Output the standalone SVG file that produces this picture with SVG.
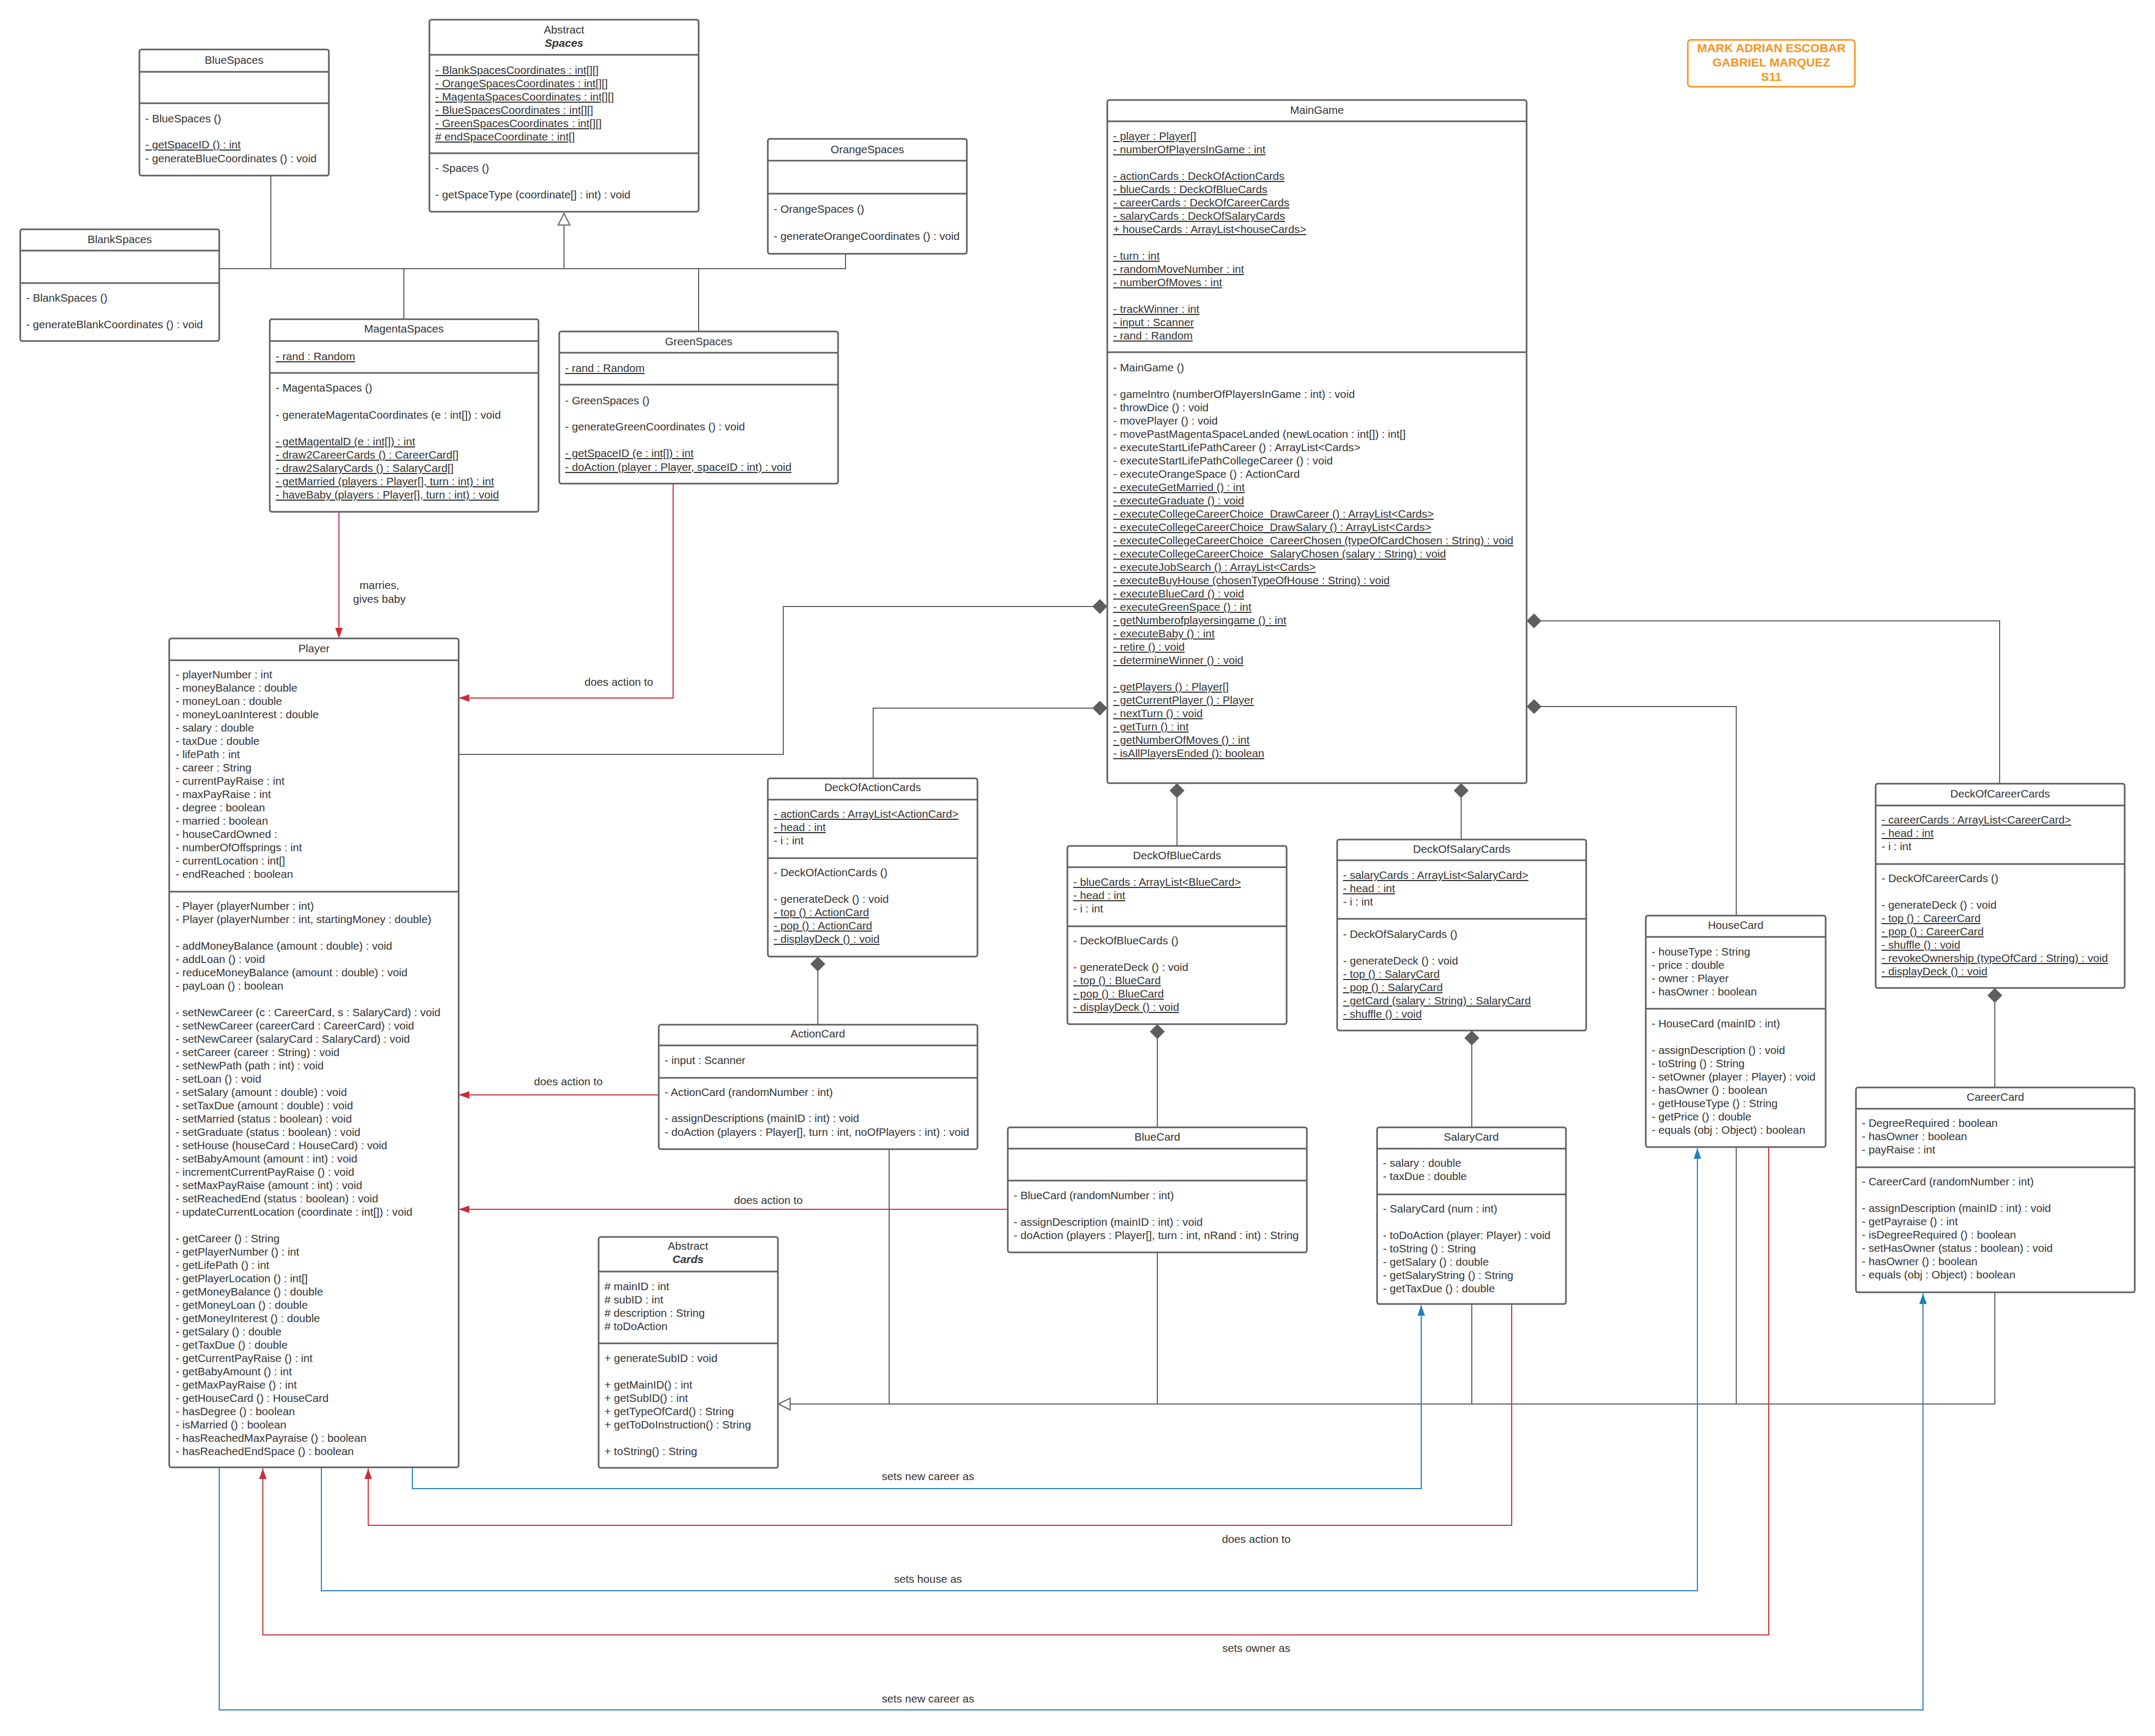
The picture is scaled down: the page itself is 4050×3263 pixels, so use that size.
<svg xmlns="http://www.w3.org/2000/svg" width="4050" height="3263" viewBox="0 0 4050 3263">
<style>
.bg{fill:#fff}
.box{fill:#fff;stroke:#5e5e5e;stroke-width:3}
.dv{stroke:#5e5e5e;stroke-width:3}
text{font-family:"Liberation Sans",Arial,sans-serif;font-size:20.7px;fill:#333}
.c{text-anchor:middle}
.u{text-decoration:underline}
.bi{font-weight:bold;font-style:italic}
.ln{fill:none;stroke:#5e5e5e;stroke-width:2}
.rd{fill:none;stroke:#c92d39;stroke-width:2}
.bl{fill:none;stroke:#1f7fc0;stroke-width:2}
.nm{font-weight:bold;fill:#f7941d;font-size:22.5px}
</style>
<defs>
<marker id="arrR" markerUnits="userSpaceOnUse" markerWidth="24" markerHeight="18" refX="20" refY="7" orient="auto"><path d="M0,0 L20,7 L0,14 z" fill="#c92d39"/></marker>
<marker id="arrB" markerUnits="userSpaceOnUse" markerWidth="24" markerHeight="18" refX="20" refY="7" orient="auto"><path d="M0,0 L20,7 L0,14 z" fill="#1f7fc0"/></marker>
<marker id="dia" markerUnits="userSpaceOnUse" markerWidth="32" markerHeight="32" refX="1" refY="15" orient="auto"><path d="M1,15 L15,1 L29,15 L15,29 z" fill="#5e5e5e"/></marker>
<marker id="tri" markerUnits="userSpaceOnUse" markerWidth="28" markerHeight="28" refX="24" refY="13" orient="auto"><path d="M2,2 L24,13 L2,24 z" fill="#fff" stroke="#5e5e5e" stroke-width="2"/></marker>
</defs>
<rect class="bg" x="0" y="0" width="4050" height="3263"/>

<g id="connectors">
<path class="ln" d="M412,505 H1060 V401" marker-end="url(#tri)"/>
<path class="ln" d="M509,330 V505"/>
<path class="ln" d="M759,600 V505"/>
<path class="ln" d="M1589,477 V505 H1060"/>
<path class="ln" d="M1313,623 V505"/>
<path class="rd" d="M637,962 V1200" marker-end="url(#arrR)"/>
<text class="c" x="713" y="1107">marries,</text>
<text class="c" x="713" y="1133">gives baby</text>
<path class="rd" d="M1265,909 V1312 H862" marker-end="url(#arrR)"/>
<text class="c" x="1163" y="1289">does action to</text>
<path class="ln" d="M2081,1140 H1472 V1418 H862" marker-start="url(#dia)"/>
<path class="ln" d="M2081,1331 H1641 V1463" marker-start="url(#dia)"/>
<path class="ln" d="M2212,1472 V1590" marker-start="url(#dia)"/>
<path class="ln" d="M2746,1472 V1578" marker-start="url(#dia)"/>
<path class="ln" d="M2869,1167 H3758 V1473" marker-start="url(#dia)"/>
<path class="ln" d="M2869,1328 H3263 V1721" marker-start="url(#dia)"/>
<path class="ln" d="M1537,1798 V1926" marker-start="url(#dia)"/>
<path class="ln" d="M2175,1925 V2119" marker-start="url(#dia)"/>
<path class="ln" d="M2766,1937 V2119" marker-start="url(#dia)"/>
<path class="ln" d="M3749,1857 V2044" marker-start="url(#dia)"/>
<path class="rd" d="M1238,2058 H862" marker-end="url(#arrR)"/>
<text class="c" x="1068" y="2040">does action to</text>
<path class="rd" d="M1894,2273 H862" marker-end="url(#arrR)"/>
<text class="c" x="1444" y="2263">does action to</text>
<path class="ln" d="M3749,2429 V2639 H1463" marker-end="url(#tri)"/>
<path class="ln" d="M1671,2160 V2639"/>
<path class="ln" d="M2175,2354 V2639"/>
<path class="ln" d="M2766,2451 V2639"/>
<path class="ln" d="M3263,2156 V2639"/>
<path class="bl" d="M775,2758 V2798 H2671 V2453" marker-end="url(#arrB)"/>
<text class="c" x="1744" y="2782">sets new career as</text>
<path class="rd" d="M2841,2451 V2867 H692 V2760" marker-end="url(#arrR)"/>
<text class="c" x="2361" y="2900">does action to</text>
<path class="bl" d="M604,2758 V2990 H3190 V2158" marker-end="url(#arrB)"/>
<text class="c" x="1744" y="2975">sets house as</text>
<path class="rd" d="M3324,2156 V3073 H494 V2760" marker-end="url(#arrR)"/>
<text class="c" x="2361" y="3105">sets owner as</text>
<path class="bl" d="M412,2758 V3214 H3614 V2431" marker-end="url(#arrB)"/>
<text class="c" x="1744" y="3200">sets new career as</text>
</g>

<g id="names">
<rect x="3172" y="75" width="314" height="88" rx="6" fill="#fff" stroke="#f7941d" stroke-width="3"/>
<text class="c nm" x="3329" y="98">MARK ADRIAN ESCOBAR</text>
<text class="c nm" x="3329" y="125">GABRIEL MARQUEZ</text>
<text class="c nm" x="3329" y="152">S11</text>
</g>

<g id="BlueSpaces">
<rect class="box" x="262" y="93" width="356" height="237" rx="4"/>
<path class="dv" d="M262,135 H618 M262,194 H618"/>
<text class="c" x="440" y="120">BlueSpaces</text>
<text x="273" y="230">- BlueSpaces ()</text>
<text class="u" x="273" y="279">- getSpaceID () : int</text>
<text x="273" y="305">- generateBlueCoordinates () : void</text>
</g>

<g id="Spaces">
<rect class="box" x="807" y="37" width="506" height="361" rx="4"/>
<path class="dv" d="M807,103 H1313 M807,288 H1313"/>
<text class="c" x="1060" y="63">Abstract</text>
<text class="c bi" x="1060" y="88">Spaces</text>
<text class="u" x="818" y="139">- BlankSpacesCoordinates : int[][]</text>
<text class="u" x="818" y="164">- OrangeSpacesCoordinates : int[][]</text>
<text class="u" x="818" y="189">- MagentaSpacesCoordinates : int[][]</text>
<text class="u" x="818" y="214">- BlueSpacesCoordinates : int[][]</text>
<text class="u" x="818" y="239">- GreenSpacesCoordinates : int[][]</text>
<text class="u" x="818" y="264"># endSpaceCoordinate : int[]</text>
<text x="818" y="323">- Spaces ()</text>
<text x="818" y="373">- getSpaceType (coordinate[] : int) : void</text>
</g>

<g id="BlankSpaces">
<rect class="box" x="38" y="431" width="374" height="210" rx="4"/>
<path class="dv" d="M38,471 H412 M38,532 H412"/>
<text class="c" x="225" y="457">BlankSpaces</text>
<text x="49" y="567">- BlankSpaces ()</text>
<text x="49" y="617">- generateBlankCoordinates () : void</text>
</g>

<g id="OrangeSpaces">
<rect class="box" x="1443" y="261" width="374" height="216" rx="4"/>
<path class="dv" d="M1443,302 H1817 M1443,364 H1817"/>
<text class="c" x="1630" y="288">OrangeSpaces</text>
<text x="1454" y="400">- OrangeSpaces ()</text>
<text x="1454" y="451">- generateOrangeCoordinates () : void</text>
</g>

<g id="MagentaSpaces">
<rect class="box" x="507" y="600" width="505" height="362" rx="4"/>
<path class="dv" d="M507,641 H1012 M507,701 H1012"/>
<text class="c" x="759" y="625">MagentaSpaces</text>
<text class="u" x="518" y="677">- rand : Random</text>
<text x="518" y="736">- MagentaSpaces ()</text>
<text x="518" y="787">- generateMagentaCoordinates (e : int[]) : void</text>
<text class="u" x="518" y="837">- getMagentalD (e : int[]) : int</text>
<text class="u" x="518" y="862">- draw2CareerCards () : CareerCard[]</text>
<text class="u" x="518" y="887">- draw2SalaryCards () : SalaryCard[]</text>
<text class="u" x="518" y="912">- getMarried (players : Player[], turn : int) : int</text>
<text class="u" x="518" y="937">- haveBaby (players : Player[], turn : int) : void</text>
</g>

<g id="GreenSpaces">
<rect class="box" x="1051" y="623" width="524" height="286" rx="4"/>
<path class="dv" d="M1051,663 H1575 M1051,723 H1575"/>
<text class="c" x="1313" y="649">GreenSpaces</text>
<text class="u" x="1062" y="699">- rand : Random</text>
<text x="1062" y="760">- GreenSpaces ()</text>
<text x="1062" y="809">- generateGreenCoordinates () : void</text>
<text class="u" x="1062" y="859">- getSpaceID (e : int[]) : int</text>
<text class="u" x="1062" y="885">- doAction (player : Player, spaceID : int) : void</text>
</g>

<g id="MainGame">
<rect class="box" x="2081" y="188" width="788" height="1284" rx="4"/>
<path class="dv" d="M2081,228 H2869 M2081,662 H2869"/>
<text class="c" x="2475" y="214">MainGame</text>
<text class="u" x="2092" y="263">- player : Player[]</text>
<text class="u" x="2092" y="288">- numberOfPlayersInGame : int</text>
<text class="u" x="2092" y="338">- actionCards : DeckOfActionCards</text>
<text class="u" x="2092" y="363">- blueCards : DeckOfBlueCards</text>
<text class="u" x="2092" y="388">- careerCards : DeckOfCareerCards</text>
<text class="u" x="2092" y="413">- salaryCards : DeckOfSalaryCards</text>
<text class="u" x="2092" y="438">+ houseCards : ArrayList&lt;houseCards&gt;</text>
<text class="u" x="2092" y="488">- turn : int</text>
<text class="u" x="2092" y="513">- randomMoveNumber : int</text>
<text class="u" x="2092" y="538">- numberOfMoves : int</text>
<text class="u" x="2092" y="588">- trackWinner : int</text>
<text class="u" x="2092" y="613">- input : Scanner</text>
<text class="u" x="2092" y="638">- rand : Random</text>
<text x="2092" y="698">- MainGame ()</text>
<text x="2092" y="748">- gameIntro (numberOfPlayersInGame : int) : void</text>
<text x="2092" y="773">- throwDice () : void</text>
<text x="2092" y="798">- movePlayer () : void</text>
<text x="2092" y="823">- movePastMagentaSpaceLanded (newLocation : int[]) : int[]</text>
<text x="2092" y="848">- executeStartLifePathCareer () : ArrayList&lt;Cards&gt;</text>
<text x="2092" y="873">- executeStartLifePathCollegeCareer () : void</text>
<text x="2092" y="898">- executeOrangeSpace () : ActionCard</text>
<text class="u" x="2092" y="923">- executeGetMarried () : int</text>
<text class="u" x="2092" y="948">- executeGraduate () : void</text>
<text class="u" x="2092" y="973">- executeCollegeCareerChoice_DrawCareer () : ArrayList&lt;Cards&gt;</text>
<text class="u" x="2092" y="998">- executeCollegeCareerChoice_DrawSalary () : ArrayList&lt;Cards&gt;</text>
<text class="u" x="2092" y="1023">- executeCollegeCareerChoice_CareerChosen (typeOfCardChosen : String) : void</text>
<text class="u" x="2092" y="1048">- executeCollegeCareerChoice_SalaryChosen (salary : String) : void</text>
<text class="u" x="2092" y="1073">- executeJobSearch () : ArrayList&lt;Cards&gt;</text>
<text class="u" x="2092" y="1098">- executeBuyHouse (chosenTypeOfHouse : String) : void</text>
<text class="u" x="2092" y="1123">- executeBlueCard () : void</text>
<text class="u" x="2092" y="1148">- executeGreenSpace () : int</text>
<text class="u" x="2092" y="1173">- getNumberofplayersingame () : int</text>
<text class="u" x="2092" y="1198">- executeBaby () : int</text>
<text class="u" x="2092" y="1223">- retire () : void</text>
<text class="u" x="2092" y="1248">- determineWinner () : void</text>
<text class="u" x="2092" y="1298">- getPlayers () : Player[]</text>
<text class="u" x="2092" y="1323">- getCurrentPlayer () : Player</text>
<text class="u" x="2092" y="1348">- nextTurn () : void</text>
<text class="u" x="2092" y="1373">- getTurn () : int</text>
<text class="u" x="2092" y="1398">- getNumberOfMoves () : int</text>
<text class="u" x="2092" y="1423">- isAllPlayersEnded (): boolean</text>
</g>

<g id="Player">
<rect class="box" x="318" y="1200" width="544" height="1558" rx="4"/>
<path class="dv" d="M318,1241 H862 M318,1676 H862"/>
<text class="c" x="590" y="1226">Player</text>
<text x="330" y="1275">- playerNumber : int</text>
<text x="330" y="1300">- moneyBalance : double</text>
<text x="330" y="1325">- moneyLoan : double</text>
<text x="330" y="1350">- moneyLoanInterest : double</text>
<text x="330" y="1375">- salary : double</text>
<text x="330" y="1400">- taxDue : double</text>
<text x="330" y="1425">- lifePath : int</text>
<text x="330" y="1450">- career : String</text>
<text x="330" y="1475">- currentPayRaise : int</text>
<text x="330" y="1500">- maxPayRaise : int</text>
<text x="330" y="1525">- degree : boolean</text>
<text x="330" y="1550">- married : boolean</text>
<text x="330" y="1575">- houseCardOwned :</text>
<text x="330" y="1600">- numberOfOffsprings : int</text>
<text x="330" y="1625">- currentLocation : int[]</text>
<text x="330" y="1650">- endReached : boolean</text>
<text x="330" y="1710">- Player (playerNumber : int)</text>
<text x="330" y="1735">- Player (playerNumber : int, startingMoney : double)</text>
<text x="330" y="1785">- addMoneyBalance (amount : double) : void</text>
<text x="330" y="1810">- addLoan () : void</text>
<text x="330" y="1835">- reduceMoneyBalance (amount : double) : void</text>
<text x="330" y="1860">- payLoan () : boolean</text>
<text x="330" y="1910">- setNewCareer (c : CareerCard, s : SalaryCard) : void</text>
<text x="330" y="1935">- setNewCareer (careerCard : CareerCard) : void</text>
<text x="330" y="1960">- setNewCareer (salaryCard : SalaryCard) : void</text>
<text x="330" y="1985">- setCareer (career : String) : void</text>
<text x="330" y="2010">- setNewPath (path : int) : void</text>
<text x="330" y="2035">- setLoan () : void</text>
<text x="330" y="2060">- setSalary (amount : double) : void</text>
<text x="330" y="2085">- setTaxDue (amount : double) : void</text>
<text x="330" y="2110">- setMarried (status : boolean) : void</text>
<text x="330" y="2135">- setGraduate (status : boolean) : void</text>
<text x="330" y="2160">- setHouse (houseCard : HouseCard) : void</text>
<text x="330" y="2185">- setBabyAmount (amount : int) : void</text>
<text x="330" y="2210">- incrementCurrentPayRaise () : void</text>
<text x="330" y="2235">- setMaxPayRaise (amount : int) : void</text>
<text x="330" y="2260">- setReachedEnd (status : boolean) : void</text>
<text x="330" y="2285">- updateCurrentLocation (coordinate : int[]) : void</text>
<text x="330" y="2335">- getCareer () : String</text>
<text x="330" y="2360">- getPlayerNumber () : int</text>
<text x="330" y="2385">- getLifePath () : int</text>
<text x="330" y="2410">- getPlayerLocation () : int[]</text>
<text x="330" y="2435">- getMoneyBalance () : double</text>
<text x="330" y="2460">- getMoneyLoan () : double</text>
<text x="330" y="2485">- getMoneyInterest () : double</text>
<text x="330" y="2510">- getSalary () : double</text>
<text x="330" y="2535">- getTaxDue () : double</text>
<text x="330" y="2560">- getCurrentPayRaise () : int</text>
<text x="330" y="2585">- getBabyAmount () : int</text>
<text x="330" y="2610">- getMaxPayRaise () : int</text>
<text x="330" y="2635">- getHouseCard () : HouseCard</text>
<text x="330" y="2660">- hasDegree () : boolean</text>
<text x="330" y="2685">- isMarried () : boolean</text>
<text x="330" y="2710">- hasReachedMaxPayraise () : boolean</text>
<text x="330" y="2735">- hasReachedEndSpace () : boolean</text>
</g>

<g id="DeckOfActionCards">
<rect class="box" x="1443" y="1463" width="394" height="335" rx="4"/>
<path class="dv" d="M1443,1503 H1837 M1443,1613 H1837"/>
<text class="c" x="1640" y="1487">DeckOfActionCards</text>
<text class="u" x="1454" y="1537">- actionCards : ArrayList&lt;ActionCard&gt;</text>
<text class="u" x="1454" y="1562">- head : int</text>
<text x="1454" y="1587">- i : int</text>
<text x="1454" y="1647">- DeckOfActionCards ()</text>
<text x="1454" y="1697">- generateDeck () : void</text>
<text class="u" x="1454" y="1722">- top () : ActionCard</text>
<text class="u" x="1454" y="1747">- pop () : ActionCard</text>
<text class="u" x="1454" y="1772">- displayDeck () : void</text>
</g>

<g id="ActionCard">
<rect class="box" x="1238" y="1926" width="599" height="234" rx="4"/>
<path class="dv" d="M1238,1965 H1837 M1238,2026 H1837"/>
<text class="c" x="1537" y="1950">ActionCard</text>
<text x="1249" y="2000">- input : Scanner</text>
<text x="1249" y="2060">- ActionCard (randomNumber : int)</text>
<text x="1249" y="2109">- assignDescriptions (mainID : int) : void</text>
<text x="1249" y="2135">- doAction (players : Player[], turn : int, noOfPlayers : int) : void</text>
</g>

<g id="Cards">
<rect class="box" x="1125" y="2325" width="337" height="434" rx="4"/>
<path class="dv" d="M1125,2390 H1462 M1125,2525 H1462"/>
<text class="c" x="1293" y="2349">Abstract</text>
<text class="c bi" x="1293" y="2374">Cards</text>
<text x="1136" y="2425"># mainID : int</text>
<text x="1136" y="2450"># subID : int</text>
<text x="1136" y="2475"># description : String</text>
<text x="1136" y="2500"># toDoAction</text>
<text x="1136" y="2560">+ generateSubID : void</text>
<text x="1136" y="2610">+ getMainID() : int</text>
<text x="1136" y="2635">+ getSubID() : int</text>
<text x="1136" y="2660">+ getTypeOfCard() : String</text>
<text x="1136" y="2685">+ getToDoInstruction() : String</text>
<text x="1136" y="2735">+ toString() : String</text>
</g>

<g id="DeckOfBlueCards">
<rect class="box" x="2006" y="1590" width="412" height="335" rx="4"/>
<path class="dv" d="M2006,1630 H2418 M2006,1741 H2418"/>
<text class="c" x="2212" y="1615">DeckOfBlueCards</text>
<text class="u" x="2017" y="1665">- blueCards : ArrayList&lt;BlueCard&gt;</text>
<text class="u" x="2017" y="1690">- head : int</text>
<text x="2017" y="1715">- i : int</text>
<text x="2017" y="1775">- DeckOfBlueCards ()</text>
<text x="2017" y="1825">- generateDeck () : void</text>
<text class="u" x="2017" y="1850">- top () : BlueCard</text>
<text class="u" x="2017" y="1875">- pop () : BlueCard</text>
<text class="u" x="2017" y="1900">- displayDeck () : void</text>
</g>

<g id="DeckOfSalaryCards">
<rect class="box" x="2513" y="1578" width="468" height="359" rx="4"/>
<path class="dv" d="M2513,1617 H2981 M2513,1727 H2981"/>
<text class="c" x="2747" y="1603">DeckOfSalaryCards</text>
<text class="u" x="2524" y="1652">- salaryCards : ArrayList&lt;SalaryCard&gt;</text>
<text class="u" x="2524" y="1677">- head : int</text>
<text x="2524" y="1702">- i : int</text>
<text x="2524" y="1763">- DeckOfSalaryCards ()</text>
<text x="2524" y="1813">- generateDeck () : void</text>
<text class="u" x="2524" y="1838">- top () : SalaryCard</text>
<text class="u" x="2524" y="1863">- pop () : SalaryCard</text>
<text class="u" x="2524" y="1888">- getCard (salary : String) : SalaryCard</text>
<text class="u" x="2524" y="1913">- shuffle () : void</text>
</g>

<g id="BlueCard">
<rect class="box" x="1894" y="2119" width="562" height="235" rx="4"/>
<path class="dv" d="M1894,2159 H2456 M1894,2219 H2456"/>
<text class="c" x="2175" y="2144">BlueCard</text>
<text x="1905" y="2254">- BlueCard (randomNumber : int)</text>
<text x="1905" y="2304">- assignDescription (mainID : int) : void</text>
<text x="1905" y="2329">- doAction (players : Player[], turn : int, nRand : int) : String</text>
</g>

<g id="SalaryCard">
<rect class="box" x="2588" y="2119" width="355" height="332" rx="4"/>
<path class="dv" d="M2588,2159 H2943 M2588,2245 H2943"/>
<text class="c" x="2765" y="2144">SalaryCard</text>
<text x="2599" y="2193">- salary : double</text>
<text x="2599" y="2218">- taxDue : double</text>
<text x="2599" y="2279">- SalaryCard (num : int)</text>
<text x="2599" y="2329">- toDoAction (player: Player) : void</text>
<text x="2599" y="2354">- toString () : String</text>
<text x="2599" y="2379">- getSalary () : double</text>
<text x="2599" y="2404">- getSalaryString () : String</text>
<text x="2599" y="2429">- getTaxDue () : double</text>
</g>

<g id="HouseCard">
<rect class="box" x="3093" y="1721" width="338" height="435" rx="4"/>
<path class="dv" d="M3093,1761 H3431 M3093,1896 H3431"/>
<text class="c" x="3262" y="1746">HouseCard</text>
<text x="3104" y="1796">- houseType : String</text>
<text x="3104" y="1821">- price : double</text>
<text x="3104" y="1846">- owner : Player</text>
<text x="3104" y="1871">- hasOwner : boolean</text>
<text x="3104" y="1931">- HouseCard (mainID : int)</text>
<text x="3104" y="1981">- assignDescription () : void</text>
<text x="3104" y="2006">- toString () : String</text>
<text x="3104" y="2031">- setOwner (player : Player) : void</text>
<text x="3104" y="2056">- hasOwner () : boolean</text>
<text x="3104" y="2081">- getHouseType () : String</text>
<text x="3104" y="2106">- getPrice () : double</text>
<text x="3104" y="2131">- equals (obj : Object) : boolean</text>
</g>

<g id="DeckOfCareerCards">
<rect class="box" x="3525" y="1473" width="468" height="384" rx="4"/>
<path class="dv" d="M3525,1514 H3993 M3525,1624 H3993"/>
<text class="c" x="3759" y="1499">DeckOfCareerCards</text>
<text class="u" x="3536" y="1548">- careerCards : ArrayList&lt;CareerCard&gt;</text>
<text class="u" x="3536" y="1573">- head : int</text>
<text x="3536" y="1598">- i : int</text>
<text x="3536" y="1658">- DeckOfCareerCards ()</text>
<text x="3536" y="1708">- generateDeck () : void</text>
<text class="u" x="3536" y="1733">- top () : CareerCard</text>
<text class="u" x="3536" y="1758">- pop () : CareerCard</text>
<text class="u" x="3536" y="1783">- shuffle () : void</text>
<text class="u" x="3536" y="1808">- revokeOwnership (typeOfCard : String) : void</text>
<text class="u" x="3536" y="1833">- displayDeck () : void</text>
</g>

<g id="CareerCard">
<rect class="box" x="3488" y="2044" width="524" height="385" rx="4"/>
<path class="dv" d="M3488,2084 H4012 M3488,2194 H4012"/>
<text class="c" x="3750" y="2069">CareerCard</text>
<text x="3499" y="2118">- DegreeRequired : boolean</text>
<text x="3499" y="2143">- hasOwner : boolean</text>
<text x="3499" y="2168">- payRaise : int</text>
<text x="3499" y="2228">- CareerCard (randomNumber : int)</text>
<text x="3499" y="2278">- assignDescription (mainID : int) : void</text>
<text x="3499" y="2303">- getPayraise () : int</text>
<text x="3499" y="2328">- isDegreeRequired () : boolean</text>
<text x="3499" y="2353">- setHasOwner (status : boolean) : void</text>
<text x="3499" y="2378">- hasOwner () : boolean</text>
<text x="3499" y="2403">- equals (obj : Object) : boolean</text>
</g>
</svg>
